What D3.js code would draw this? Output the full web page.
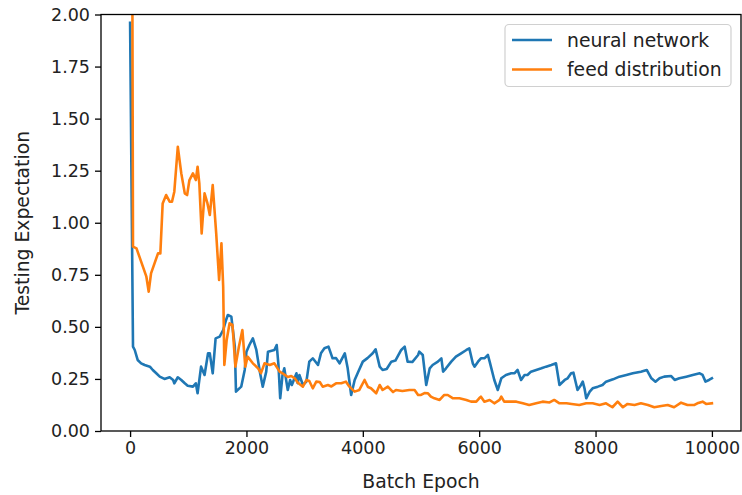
<!DOCTYPE html>
<html>
<head>
<meta charset="utf-8">
<script src="https://cdn.jsdelivr.net/npm/d3@7"></script>
<style>
  html, body { margin: 0; padding: 0; background: #ffffff; }
  svg { display: block; font-family: "DejaVu Sans", sans-serif; }
</style>
</head>
<body>
<svg id="chart" width="742" height="495"></svg>
<script>
// ---- data ----
const seriesNames = ["neural network", "feed distribution"];
const seriesColors = ["#1f77b4", "#ff7f0e"];

const nnEpoch = [0,50,80,130,190,250,340,390,450,510,590,680,740,760,820,880,940,990,1080,1130,1160,1220,1280,1340,1370,1420,1470,1540,1600,1650,1680,1740,1800,1820,1910,1970,2000,2050,2110,2170,2230,2280,2340,2370,2480,2520,2550,2580,2620,2650,2710,2750,2780,2860,2880,2910,2970,3030,3080,3140,3230,3280,3340,3410,3480,3540,3600,3690,3740,3800,3860,3920,4000,4080,4170,4220,4290,4340,4410,4490,4560,4660,4720,4770,4850,4950,4970,5030,5090,5150,5200,5290,5350,5380,5430,5520,5600,5690,5780,5830,5890,5920,5980,6030,6090,6150,6180,6260,6320,6380,6460,6550,6610,6660,6720,6780,6830,6890,6980,7070,7150,7240,7320,7380,7470,7520,7580,7620,7670,7690,7750,7780,7810,7840,7900,7950,8040,8120,8180,8300,8410,8530,8640,8780,8880,8960,9030,9100,9180,9300,9360,9440,9560,9670,9790,9840,9890,9950,10000];
const nnValue = [1.96,0.405,0.389,0.341,0.325,0.317,0.309,0.293,0.277,0.261,0.250,0.258,0.245,0.229,0.258,0.245,0.229,0.217,0.213,0.229,0.181,0.309,0.269,0.373,0.373,0.277,0.445,0.453,0.485,0.533,0.557,0.549,0.405,0.189,0.213,0.293,0.381,0.413,0.445,0.389,0.285,0.213,0.285,0.381,0.389,0.413,0.317,0.157,0.269,0.301,0.197,0.245,0.221,0.277,0.230,0.269,0.221,0.237,0.333,0.349,0.317,0.373,0.397,0.405,0.349,0.350,0.325,0.373,0.301,0.173,0.245,0.283,0.333,0.350,0.373,0.392,0.309,0.293,0.298,0.333,0.338,0.389,0.405,0.333,0.331,0.365,0.381,0.365,0.221,0.301,0.317,0.333,0.349,0.285,0.301,0.333,0.357,0.373,0.389,0.397,0.325,0.309,0.333,0.349,0.349,0.365,0.333,0.245,0.197,0.253,0.269,0.277,0.278,0.293,0.245,0.269,0.269,0.285,0.293,0.301,0.309,0.317,0.325,0.221,0.245,0.253,0.277,0.280,0.221,0.197,0.221,0.237,0.205,0.157,0.189,0.205,0.213,0.221,0.237,0.248,0.261,0.269,0.277,0.285,0.293,0.253,0.237,0.253,0.261,0.264,0.245,0.253,0.261,0.269,0.277,0.269,0.237,0.245,0.253];

const fdEpoch = [0,40,50,110,160,220,280,320,360,420,480,520,560,620,680,720,760,820,880,940,980,1020,1080,1130,1160,1190,1230,1280,1330,1370,1420,1480,1530,1570,1600,1620,1660,1710,1760,1810,1870,1930,1980,2020,2110,2200,2250,2310,2400,2480,2570,2620,2710,2770,2830,2880,2970,3030,3080,3140,3200,3260,3310,3400,3460,3540,3630,3710,3770,3860,3940,4030,4090,4140,4230,4290,4340,4430,4520,4570,4680,4800,4890,4950,5000,5060,5120,5170,5230,5320,5400,5460,5550,5660,5780,5860,5950,6000,6030,6090,6180,6260,6350,6380,6430,6520,6640,6750,6860,6980,7090,7210,7290,7380,7500,7590,7720,7840,7950,8070,8180,8290,8380,8470,8550,8670,8780,8900,9010,9130,9240,9350,9470,9580,9700,9750,9840,9900,10000];
const fdValue = [2.03,2.02,0.885,0.877,0.837,0.789,0.741,0.669,0.757,0.805,0.853,0.853,1.093,1.133,1.101,1.101,1.149,1.365,1.237,1.141,1.133,1.205,1.237,1.205,1.269,1.189,0.949,1.141,1.093,1.037,1.181,0.949,0.725,0.901,0.693,0.317,0.437,0.517,0.509,0.309,0.405,0.485,0.309,0.357,0.325,0.301,0.278,0.325,0.317,0.325,0.285,0.277,0.259,0.264,0.253,0.233,0.213,0.245,0.240,0.205,0.237,0.235,0.213,0.221,0.214,0.229,0.229,0.237,0.213,0.189,0.197,0.245,0.211,0.205,0.181,0.221,0.197,0.213,0.187,0.197,0.192,0.197,0.197,0.173,0.173,0.182,0.181,0.165,0.157,0.149,0.173,0.173,0.157,0.157,0.149,0.141,0.141,0.157,0.165,0.141,0.149,0.133,0.149,0.165,0.141,0.141,0.141,0.133,0.125,0.133,0.141,0.137,0.149,0.133,0.133,0.130,0.125,0.133,0.133,0.125,0.133,0.114,0.141,0.114,0.130,0.125,0.133,0.125,0.114,0.120,0.125,0.114,0.136,0.125,0.125,0.133,0.141,0.130,0.133];

const xTicks = [0,2000,4000,6000,8000,10000];
const yTicks = [0,0.25,0.5,0.75,1.0,1.25,1.5,1.75,2.0];
const xLabel = "Batch Epoch";
const yLabel = "Testing Expectation";

// ---- layout ----
const svg = d3.select("#chart");
const L = 101, R = 741, T = 14.5, B = 431;
const tickFont = 17.5, labelFont = 18.8;
const x = d3.scaleLinear().domain([-500, 10500]).range([L, R]);
const y = d3.scaleLinear().domain([0, 2]).range([B, T]);

svg.append("defs").append("clipPath").attr("id", "clip")
  .append("rect").attr("x", L).attr("y", T).attr("width", R - L).attr("height", B - T);

const series = [
  nnEpoch.map((e, i) => [e, nnValue[i]]),
  fdEpoch.map((e, i) => [e, fdValue[i]])
];

const line = d3.line().x(d => x(d[0])).y(d => y(d[1]));
const plot = svg.append("g").attr("clip-path", "url(#clip)");
series.forEach((s, i) => {
  plot.append("path").datum(s)
    .attr("d", line)
    .attr("fill", "none")
    .attr("stroke", seriesColors[i])
    .attr("stroke-width", 2.6)
    .attr("stroke-linejoin", "round")
    .attr("stroke-linecap", "square");
});

// axes
const xAxis = d3.axisBottom(x).tickValues(xTicks).tickFormat(d3.format("d")).tickSizeInner(6).tickSizeOuter(0).tickPadding(5);
const yAxis = d3.axisLeft(y).tickValues(yTicks).tickFormat(d3.format(".2f")).tickSizeInner(6).tickSizeOuter(0).tickPadding(5);

const gx = svg.append("g").attr("transform", `translate(0,${B})`).call(xAxis);
const gy = svg.append("g").attr("transform", `translate(${L},0)`).call(yAxis);
[gx, gy].forEach(g => {
  g.select(".domain").remove();
  g.selectAll(".tick line").attr("stroke", "#000").attr("stroke-width", 1.3);
  g.selectAll(".tick text").attr("fill", "#222").style("font-size", tickFont + "px").style("font-family", "DejaVu Sans");
});

// frame (spines)
svg.append("rect").attr("x", L).attr("y", T).attr("width", R - L).attr("height", B - T)
  .attr("fill", "none").attr("stroke", "#000").attr("stroke-width", 1.3);

// labels
svg.append("text").attr("x", (L + R) / 2).attr("y", 488).attr("text-anchor", "middle")
  .attr("fill", "#222").style("font-size", labelFont + "px").text(xLabel);
svg.append("text").attr("transform", `translate(29,${(T + B) / 2}) rotate(-90)`).attr("text-anchor", "middle")
  .attr("fill", "#222").style("font-size", labelFont + "px").text(yLabel);

// legend
const lg = svg.append("g");
lg.append("rect").attr("x", 505).attr("y", 24.5).attr("width", 226).attr("height", 62)
  .attr("rx", 4).attr("fill", "#fff").attr("fill-opacity", 0.8).attr("stroke", "#d0d0d0").attr("stroke-width", 1.2);
seriesNames.forEach((n, i) => {
  const cy = 40 + i * 29.5;
  lg.append("line").attr("x1", 512).attr("x2", 552).attr("y1", cy).attr("y2", cy)
    .attr("stroke", seriesColors[i]).attr("stroke-width", 2.6);
  lg.append("text").attr("x", 567).attr("y", cy).attr("dy", "0.35em")
    .attr("fill", "#222").style("font-size", labelFont + "px").text(n);
});
</script>
</body>
</html>
